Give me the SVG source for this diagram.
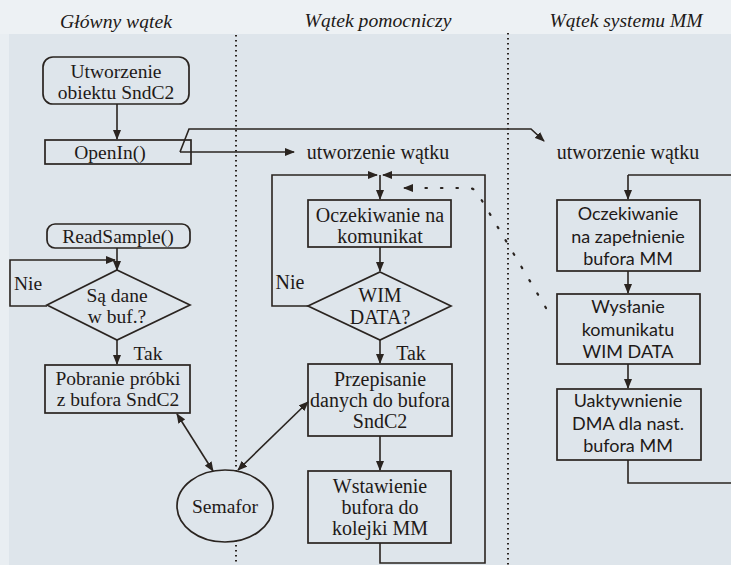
<svg xmlns="http://www.w3.org/2000/svg" width="731" height="565" viewBox="0 0 731 565">
<defs>
<marker id="ah" markerWidth="10" markerHeight="8" refX="9" refY="4" orient="auto-start-reverse" markerUnits="userSpaceOnUse"><path d="M0,0 L10,4 L0,8 z" fill="#2a2420"/></marker>
</defs>
<style>
.box{fill:none;stroke:#2a2420;stroke-width:1.7}
.ln{fill:none;stroke:#2a2420;stroke-width:1.6}
.t{font-family:"Liberation Serif","Times New Roman",serif;font-size:19.5px;fill:#1e1a18;text-anchor:middle}
.m{font-family:"Liberation Serif","Times New Roman",serif;font-size:20px;fill:#1e1a18;text-anchor:middle}
.s{font-family:Lato,"Open Sans",sans-serif;font-size:18px;fill:#1e1a18;text-anchor:middle}
.h{font-family:"Liberation Serif","Times New Roman",serif;font-style:italic;font-size:18px;fill:#1e1a18;text-anchor:middle}
.sep{fill:none;stroke:#2a2420;stroke-width:2;stroke-dasharray:1.6 3.4}
.dot{fill:none;stroke:#2a2420;stroke-width:2.2;stroke-dasharray:1.5 14;stroke-linecap:round}
</style>
<rect x="0" y="0" width="731" height="565" fill="#dee5eb"/>
<rect x="0" y="0" width="731" height="34" fill="#edf1f4"/>
<rect x="0" y="34" width="9" height="531" fill="#e9eef2"/>

<g id="titles">
<text class="h" x="116" y="28" textLength="112" lengthAdjust="spacingAndGlyphs">Główny wątek</text>
<text class="h" x="378" y="27" textLength="147" lengthAdjust="spacingAndGlyphs">Wątek pomocniczy</text>
<text class="h" x="626" y="27" textLength="153" lengthAdjust="spacingAndGlyphs">Wątek systemu MM</text>
</g>

<g id="separators">
<line class="sep" x1="236" y1="35" x2="236" y2="565"/>
<line class="sep" x1="508" y1="33" x2="508" y2="565"/>
</g>

<g id="connectors">
<path class="ln" d="M117 104 V139" marker-end="url(#ah)"/>
<path class="ln" d="M180 152 L189 129 H531 L544 141" marker-end="url(#ah)"/>
<path class="ln" d="M180 152 H294" marker-end="url(#ah)"/>
<path class="ln" d="M117 248 V270" marker-end="url(#ah)"/>
<path class="ln" d="M47 306 H10 V260 H115" marker-end="url(#ah)"/>
<path class="ln" d="M117 340 V364" marker-end="url(#ah)"/>
<path class="ln" d="M177 414 L213 471" marker-start="url(#ah)" marker-end="url(#ah)"/>
<path class="ln" d="M238 470 L308 402" marker-start="url(#ah)" marker-end="url(#ah)"/>
<path class="ln" d="M380 175 V199" marker-end="url(#ah)"/>
<path class="ln" d="M308 306 H272 V175 H377" marker-end="url(#ah)"/>
<path class="ln" d="M380 543 V563 H485 V175 H383" marker-end="url(#ah)"/>
<path class="ln" d="M380 247 V271" marker-end="url(#ah)"/>
<path class="ln" d="M380 340 V363" marker-end="url(#ah)"/>
<path class="ln" d="M380 436 V470" marker-end="url(#ah)"/>
<path class="dot" d="M546 308 L478 194 Q475 188 468 188 L412 188"/>
<path class="ln" d="M412 188 H404" marker-end="url(#ah)"/>
<path class="ln" d="M628 175 H731"/>
<path class="ln" d="M628 175 V199" marker-end="url(#ah)"/>
<path class="ln" d="M628 271 V293" marker-end="url(#ah)"/>
<path class="ln" d="M628 364 V388" marker-end="url(#ah)"/>
<path class="ln" d="M628 460 V483 H731"/>
</g>

<g id="n_utworzenie">
<rect class="box" x="43" y="57" width="146" height="47" rx="10"/>
<text class="t" x="116" y="78">Utworzenie</text>
<text class="t" x="116" y="99">obiektu SndC2</text>
</g>
<g id="n_openin">
<rect class="box" x="45" y="140" width="146" height="24"/>
<text class="t" x="110" y="159">OpenIn()</text>
</g>
<g id="n_readsample">
<rect class="box" x="47" y="224" width="143" height="24" rx="8"/>
<text class="t" x="118" y="243">ReadSample()</text>
</g>
<g id="n_sa_dane">
<polygon class="box" points="117,270 190,305 117,340 47,305"/>
<text class="t" x="117" y="302">Są dane</text>
<text class="t" x="117" y="323">w buf.?</text>
</g>
<g id="lbl_left">
<text class="t" x="28" y="290">Nie</text>
<text class="t" x="148" y="360">Tak</text>
</g>
<g id="n_pobranie">
<rect class="box" x="45" y="365" width="145" height="48"/>
<text class="t" x="118" y="385">Pobranie próbki</text>
<text class="t" x="118" y="406">z bufora SndC2</text>
</g>
<g id="n_semafor">
<ellipse cx="225" cy="506" rx="48" ry="36" fill="#dee5eb" stroke="#2a2420" stroke-width="1.7"/>
<text class="t" x="225" y="513">Semafor</text>
</g>

<g id="lbl_utw1">
<text class="m" x="378" y="159">utworzenie wątku</text>
</g>
<g id="n_oczek_kom">
<rect class="box" x="308" y="200" width="143" height="47"/>
<text class="m" x="380" y="222">Oczekiwanie na</text>
<text class="m" x="380" y="243">komunikat</text>
</g>
<g id="n_wim">
<polygon class="box" points="380,272 451,306 380,340 308,306"/>
<text class="m" x="380" y="302">WIM</text>
<text class="m" x="380" y="324">DATA?</text>
</g>
<g id="lbl_mid">
<text class="m" x="290" y="289">Nie</text>
<text class="m" x="411" y="360">Tak</text>
</g>
<g id="n_przepisanie">
<rect class="box" x="308" y="364" width="144" height="72"/>
<text class="m" x="380" y="386">Przepisanie</text>
<text class="m" x="380" y="407">danych do bufora</text>
<text class="m" x="380" y="428">SndC2</text>
</g>
<g id="n_wstawienie">
<rect class="box" x="308" y="471" width="143" height="72"/>
<text class="m" x="380" y="493">Wstawienie</text>
<text class="m" x="380" y="514">bufora do</text>
<text class="m" x="380" y="535">kolejki MM</text>
</g>

<g id="lbl_utw2">
<text class="m" x="628" y="159">utworzenie wątku</text>
</g>
<g id="n_oczek_buf">
<rect class="box" x="557" y="200" width="143" height="71"/>
<text class="s" x="628" y="220">Oczekiwanie</text>
<text class="s" x="628" y="243">na zapełnienie</text>
<text class="s" x="628" y="265">bufora MM</text>
</g>
<g id="n_wyslanie">
<rect class="box" x="557" y="294" width="143" height="70"/>
<text class="s" x="628" y="313">Wysłanie</text>
<text class="s" x="628" y="336">komunikatu</text>
<text class="s" x="628" y="358">WIM  DATA</text>
</g>
<g id="n_dma">
<rect class="box" x="557" y="389" width="144" height="71"/>
<text class="s" x="628" y="407">Uaktywnienie</text>
<text class="s" x="628" y="430">DMA dla nast.</text>
<text class="s" x="628" y="452">bufora MM</text>
</g>
</svg>
